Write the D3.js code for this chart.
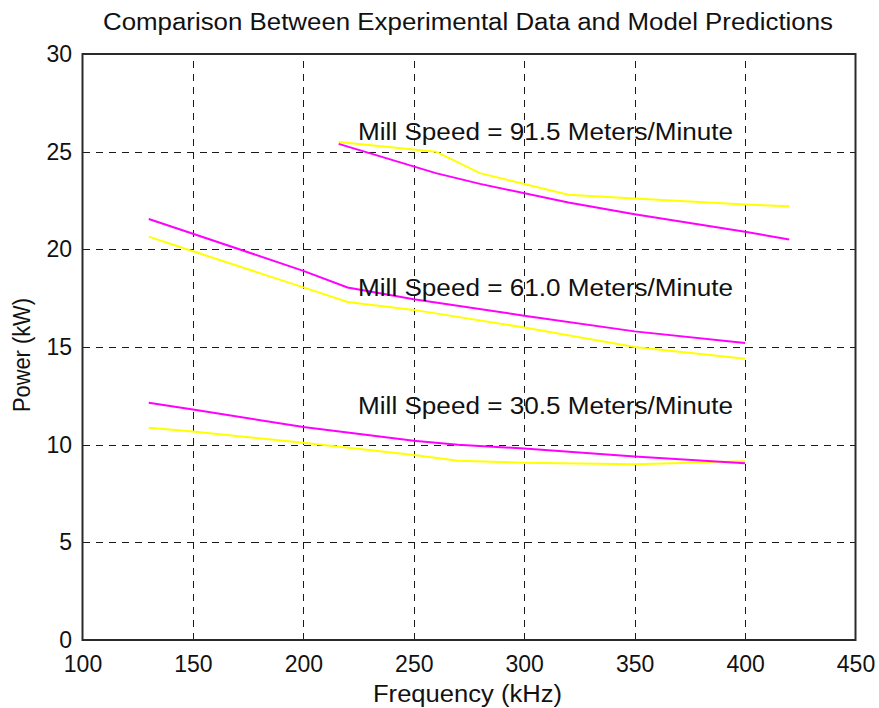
<!DOCTYPE html>
<html>
<head>
<meta charset="utf-8">
<script src="https://cdn.jsdelivr.net/npm/d3@7/dist/d3.min.js"></script>
<style>
  html, body { margin: 0; padding: 0; background: #fff; }
  svg { display: block; }
  text { font-family: "Liberation Sans", Arial, sans-serif; fill: #111; }
</style>
</head>
<body>
<svg id="chart" width="879" height="708"></svg>
<script>
// Axis ticks
const xTicks = [100, 150, 200, 250, 300, 350, 400, 450];
const yTicks = [0, 5, 10, 15, 20, 25, 30];

// Mill speed 30.5 m/min
const freq30 = [130, 150, 200, 250, 270, 300, 350, 400];
const yellow30 = [10.87, 10.67, 10.1, 9.47, 9.18, 9.08, 9.0, 9.15];
const magenta30 = [12.15, 11.8, 10.9, 10.2, 10.0, 9.8, 9.4, 9.05];

// Mill speed 61.0 m/min
const freq61 = [130, 150, 200, 220, 250, 300, 350, 400];
const yellow61 = [20.65, 19.9, 18.05, 17.3, 16.9, 16.0, 15.0, 14.4];
const magenta61 = [21.55, 20.8, 18.9, 18.05, 17.45, 16.6, 15.8, 15.2];

// Mill speed 91.5 m/min
const freq91 = [216, 260, 280, 320, 350, 400, 420];
const yellow91 = [25.5, 25.0, 23.9, 22.8, 22.6, 22.3, 22.2];
const magenta91 = [25.4, 23.9, 23.35, 22.4, 21.8, 20.9, 20.5];

// Curve annotations: [x, y, label]
const labelX = [225, 225, 225];
const labelY = [26.0, 18.0, 12.0];
const labelText = [
  "Mill Speed = 91.5 Meters/Minute",
  "Mill Speed = 61.0 Meters/Minute",
  "Mill Speed = 30.5 Meters/Minute"
];

const titleText = "Comparison Between Experimental Data and Model Predictions";
const xLabel = "Frequency (kHz)";
const yLabel = "Power (kW)";

const svg = d3.select("#chart");
const plotLeft = 82.5, plotRight = 855.5, plotTop = 54, plotBottom = 640;

const x = d3.scaleLinear().domain([100, 450]).range([plotLeft, plotRight]);
const y = d3.scaleLinear().domain([0, 30]).range([plotBottom, plotTop]);

// Dashed grid
const grid = svg.append("g").attr("stroke", "#1a1a1a").attr("stroke-width", 1)
  .attr("stroke-dasharray", "7,6").attr("fill", "none").attr("shape-rendering", "crispEdges");
grid.selectAll("line.gx").data(xTicks.slice(1, -1)).join("line").attr("class", "gx")
  .attr("x1", d => Math.round(x(d)) + 0.5).attr("x2", d => Math.round(x(d)) + 0.5)
  .attr("y1", plotBottom).attr("y2", plotTop);
grid.selectAll("line.gy").data(yTicks.slice(1, -1)).join("line").attr("class", "gy")
  .attr("y1", d => Math.round(y(d)) + 0.5).attr("y2", d => Math.round(y(d)) + 0.5)
  .attr("x1", plotLeft).attr("x2", plotRight);

// Curves
const line = d3.line().x(d => x(d[0])).y(d => y(d[1]));
const curves = [
  [freq30, yellow30, "#ffff00"],
  [freq30, magenta30, "#ff00ff"],
  [freq61, yellow61, "#ffff00"],
  [freq61, magenta61, "#ff00ff"],
  [freq91, yellow91, "#ffff00"],
  [freq91, magenta91, "#ff00ff"]
];
svg.append("g").selectAll("path").data(curves).join("path")
  .attr("d", c => line(c[0].map((f, i) => [f, c[1][i]])))
  .attr("fill", "none")
  .attr("stroke", c => c[2])
  .attr("stroke-width", 2);

// Axis box
svg.append("rect")
  .attr("x", plotLeft).attr("y", plotTop)
  .attr("width", plotRight - plotLeft).attr("height", plotBottom - plotTop)
  .attr("fill", "none").attr("stroke", "#2a2a2a").attr("stroke-width", 2);

// Tick labels via d3 axes (ticks hidden, labels kept)
const xAxis = svg.append("g").attr("transform", `translate(0,${plotBottom})`)
  .call(d3.axisBottom(x).tickValues(xTicks).tickSize(0).tickPadding(0).tickFormat(d3.format("d")));
xAxis.select(".domain").remove();
xAxis.selectAll("text").attr("y", 31.5).attr("dy", null).attr("font-size", 23)
  .style("font-family", '"Liberation Sans", Arial, sans-serif').attr("fill", "#111");

const yAxis = svg.append("g").attr("transform", `translate(${plotLeft},0)`)
  .call(d3.axisLeft(y).tickValues(yTicks).tickSize(0).tickPadding(0).tickFormat(d3.format("d")));
yAxis.select(".domain").remove();
yAxis.selectAll("text").attr("x", -10.5).attr("dy", 7.5).attr("font-size", 23)
  .style("font-family", '"Liberation Sans", Arial, sans-serif').attr("fill", "#111");

// Title and axis labels
svg.append("text").attr("x", 103).attr("y", 30).attr("font-size", 23)
  .attr("textLength", 730).attr("lengthAdjust", "spacingAndGlyphs").text(titleText);
svg.append("text").attr("x", 373).attr("y", 702).attr("font-size", 23)
  .attr("textLength", 189).attr("lengthAdjust", "spacingAndGlyphs").text(xLabel);
svg.append("text").attr("transform", "translate(30,412) rotate(-90)").attr("font-size", 23)
  .attr("textLength", 114).attr("lengthAdjust", "spacingAndGlyphs").text(yLabel);

// Curve annotations
svg.append("g").selectAll("text").data(labelText).join("text")
  .attr("x", (d, i) => x(labelX[i]) - 0.5)
  .attr("y", (d, i) => y(labelY[i]) + 8)
  .attr("font-size", 23)
  .attr("textLength", 375).attr("lengthAdjust", "spacingAndGlyphs")
  .text(d => d);
</script>
</body>
</html>
